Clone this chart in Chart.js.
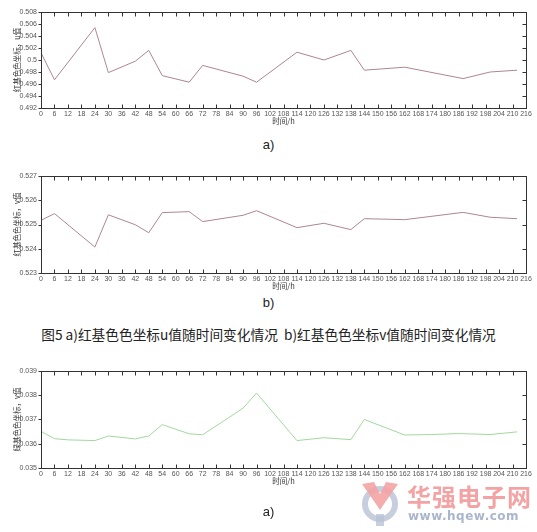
<!DOCTYPE html>
<html>
<head>
<meta charset="utf-8">
<script src="https://cdn.jsdelivr.net/npm/chart.js@4"></script>
<style>
  body { margin: 0; background: #fff; width: 537px; height: 532px; position: relative; overflow: hidden;
         font-family: "Liberation Sans", "Noto Sans CJK SC", sans-serif; color: #222; }
  canvas { position: absolute; left: 0; }
  .cap { position: absolute; left: 0; width: 537px; text-align: center; font-size: 13px; }
  .wm1 { position: absolute; left: 407px; top: 478px; font-size: 24px; font-weight: bold; color: #f3a3a3;
         font-family: "Noto Sans CJK SC", sans-serif; letter-spacing: 1px; }
  .wm2 { position: absolute; left: 408px; top: 509px; font-size: 12px; font-weight: bold; color: #aab6cc;
         font-family: "DejaVu Sans", sans-serif; letter-spacing: 0.5px; }
  .logo { position: absolute; left: 360px; top: 480px; }
</style>
</head>
<body>
<canvas id="chart-u" width="537" height="130" style="top:0px"></canvas>
<div class="cap" style="top:137px">a)</div>
<canvas id="chart-v" width="537" height="131" style="top:164px"></canvas>
<div class="cap" style="top:295px">b)</div>
<div class="cap" style="top:324px; font-size:13.7px; font-family:'Noto Sans CJK SC',sans-serif">图5 a)红基色色坐标u值随时间变化情况&nbsp;&nbsp;b)红基色色坐标v值随时间变化情况</div>
<canvas id="chart-g" width="537" height="131" style="top:359px"></canvas>
<svg class="logo" width="44" height="46" viewBox="0 0 44 46">
  <circle cx="20" cy="24" r="15" fill="none" stroke="#b9c3d6" stroke-width="6" opacity="0.8"/>
  <rect x="16" y="34" width="8" height="12" fill="#b9c3d6" opacity="0.8"/>
  <path d="M2 4 L14 2 L20 14 L26 2 L38 4 L24 24 L20 30 L16 24 Z" fill="#f3a3a3" opacity="0.9"/>
</svg>
<div class="cap" style="top:504px">a)</div>
<div class="wm1">华强电子网</div>
<div class="wm2">www.hqew.com</div>
<script>
// ── Data ────────────────────────────────────────────────────────────────────
const hoursU  = [0, 6, 24, 30, 42, 48, 54, 66, 72, 90, 96, 114, 126, 138, 144, 162, 188, 200, 212];
const valuesU = [0.5012, 0.4967, 0.5054, 0.4979, 0.4998, 0.5016, 0.4974, 0.4963, 0.4991, 0.4973, 0.4963,
                 0.5013, 0.5000, 0.5016, 0.4983, 0.4988, 0.4969, 0.4980, 0.4983];

const hoursV  = [0, 6, 24, 30, 42, 48, 54, 66, 72, 90, 96, 114, 126, 138, 144, 162, 188, 200, 212];
const valuesV = [0.52517, 0.52545, 0.52407, 0.52540, 0.52499, 0.52466, 0.52549, 0.52553, 0.52512, 0.52538,
                 0.52557, 0.52487, 0.52505, 0.52479, 0.52524, 0.52520, 0.52550, 0.52530, 0.52524];

const hoursG  = [0, 6, 12, 24, 30, 42, 48, 54, 66, 72, 84, 90, 96, 114, 126, 138, 144, 162, 174, 186, 200, 212];
const valuesG = [0.03651, 0.03621, 0.03616, 0.03613, 0.03632, 0.03620, 0.03632, 0.03679, 0.03641, 0.03637,
                 0.03710, 0.03747, 0.03809, 0.03613, 0.03625, 0.03617, 0.03700, 0.03636, 0.03638, 0.03642,
                 0.03638, 0.03649];

const X_MIN = 0, X_MAX = 216, X_STEP = 6;
const X_TITLE = "时间/h";

// ── Frame + MATLAB-style tick marks ─────────────────────────────────────────
const frameTicks = {
  id: "frameTicks",
  afterDraw(chart) {
    const { ctx, chartArea: a, scales: { x, y } } = chart;
    ctx.save();
    ctx.strokeStyle = "#333";
    ctx.lineWidth = 1;
    const L = Math.round(a.left) + 0.5, R = Math.round(a.right) + 0.5;
    const T = Math.round(a.top) + 0.5, B = Math.round(a.bottom) + 0.5;
    ctx.strokeRect(L, T, R - L, B - T);
    ctx.beginPath();
    x.ticks.forEach(t => {
      const px = Math.round(x.getPixelForValue(t.value)) + 0.5;
      ctx.moveTo(px, B); ctx.lineTo(px, B - 4);
      ctx.moveTo(px, T); ctx.lineTo(px, T + 4);
    });
    y.ticks.forEach(t => {
      const py = Math.round(y.getPixelForValue(t.value)) + 0.5;
      ctx.moveTo(L - 3, py); ctx.lineTo(L, py);
      ctx.moveTo(R, py); ctx.lineTo(R - 4, py);
    });
    ctx.stroke();
    ctx.restore();
  }
};

// ── Chart factory ───────────────────────────────────────────────────────────
function makeChart(canvasId, hours, values, color, yMin, yMax, yStep, yTitle) {
  const points = hours.map((h, i) => ({ x: h, y: values[i] }));
  return new Chart(document.getElementById(canvasId), {
    type: "line",
    data: { datasets: [{ data: points, borderColor: color, borderWidth: 1, pointRadius: 0, tension: 0, fill: false }] },
    options: {
      responsive: false,
      animation: false,
      devicePixelRatio: 1,
      layout: { padding: { top: 12, right: 11, left: 0, bottom: 0 } },
      plugins: { legend: { display: false }, tooltip: { enabled: false } },
      scales: {
        x: {
          type: "linear", min: X_MIN, max: X_MAX,
          grid: { display: false, drawTicks: false }, border: { display: false },
          ticks: { stepSize: X_STEP, autoSkip: false, maxRotation: 0, minRotation: 0, padding: 2,
                   color: "#555", font: { size: 7, family: "Liberation Sans" } },
          title: { display: true, text: X_TITLE, color: "#333", padding: { top: 0, bottom: 4 },
                   font: { size: 7.5, family: "Noto Sans CJK SC" } },
          afterFit: s => { s.height = 22; },
        },
        y: {
          min: yMin, max: yMax,
          grid: { display: false, drawTicks: false }, border: { display: false },
          ticks: { stepSize: yStep, padding: 4, color: "#555", font: { size: 7, family: "Liberation Sans" },
                   callback: v => String(+(+v).toFixed(4)) },
          title: { display: true, text: yTitle, color: "#333", padding: { top: 13, bottom: 0 },
                   font: { size: 7.5, family: "Noto Sans CJK SC" } },
          afterFit: s => { s.width = 41; },
        },
      },
    },
    plugins: [frameTicks],
  });
}

makeChart("chart-u", hoursU, valuesU, "#ad8690", 0.492, 0.508, 0.002, "红基色色坐标，u值");
makeChart("chart-v", hoursV, valuesV, "#ad8690", 0.523, 0.527, 0.001, "红基色色坐标，v值");
makeChart("chart-g", hoursG, valuesG, "#a2d89e", 0.035, 0.039, 0.001, "绿基色色坐标，v值");
</script>
</body>
</html>
